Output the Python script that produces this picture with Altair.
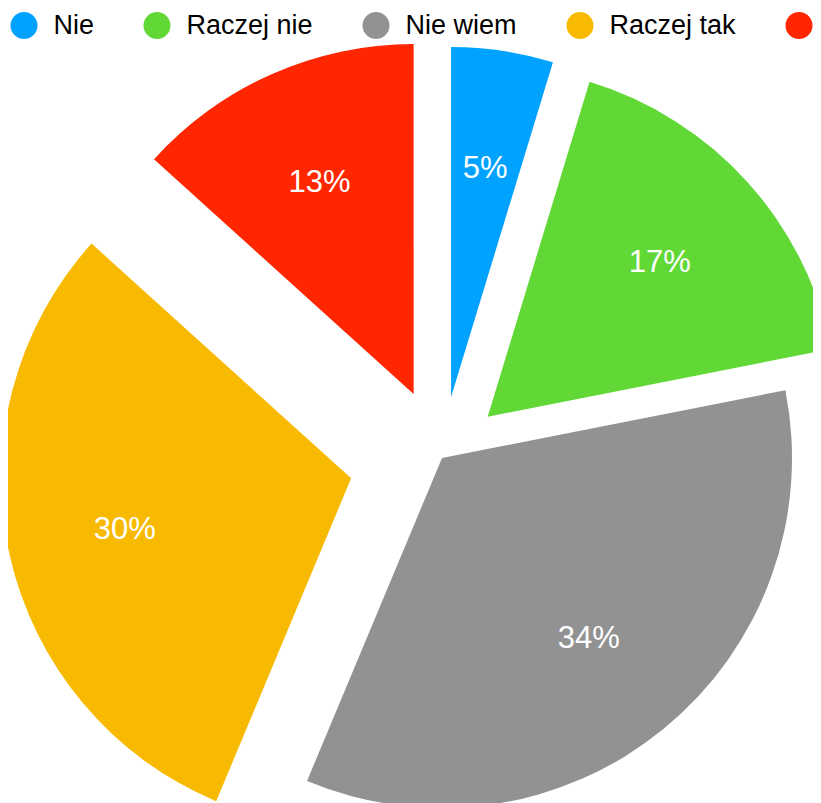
import altair as alt
import pandas as pd

# ---- data ----
categories = ["Nie", "Raczej nie", "Nie wiem", "Raczej tak", "Tak"]
values = [4.7, 17.2, 34.4, 30.4, 13.3]
colors = ["#00A2FF", "#61D836", "#929292", "#F8BA00", "#FF2600"]

# ---- style: how far each slice is pulled out (fraction of radius) ----
pull = [0.176, 0.176, 0.0, 0.266, 0.2]

W, H = 805, 795
CX, CY = 434, 450
R = 350
LR = 232
FONT = "Liberation Sans"

df = pd.DataFrame({
    "cat": categories,
    "value": values,
    "order": list(range(len(categories))),
    "pull": pull,
})

base = (
    alt.Chart(df)
    .transform_window(cum="sum(value)", sort=[alt.SortField("order")], frame=[None, 0])
    .transform_joinaggregate(total="sum(value)")
    .transform_calculate(a0="(datum.cum - datum.value) / datum.total * 2 * PI")
    .transform_calculate(a1="datum.cum / datum.total * 2 * PI")
    .transform_calculate(mid="(datum.a0 + datum.a1) / 2")
    .transform_calculate(cx=f"{CX} + datum.pull * {R} * sin(datum.mid)")
    .transform_calculate(cy=f"{CY} - datum.pull * {R} * cos(datum.mid)")
    .transform_calculate(lx=f"datum.cx + {LR} * sin(datum.mid)")
    .transform_calculate(ly=f"datum.cy - {LR} * cos(datum.mid)")
    .transform_calculate(label="format(datum.value, '.0f') + '%'")
)

arcs = base.mark_arc(radius=R).encode(
    x=alt.X("cx:Q", scale=None, axis=None),
    y=alt.Y("cy:Q", scale=None, axis=None),
    theta=alt.Theta("a0:Q", scale=None, stack=None),
    theta2="a1:Q",
    color=alt.Color(
        "cat:N",
        scale=alt.Scale(domain=categories, range=colors),
        sort=categories,
        legend=alt.Legend(
            title=None,
            orient="none",
            legendX=2.5,
            legendY=4,
            direction="horizontal",
            symbolType="circle",
            symbolSize=729,
            symbolStrokeWidth=0,
            symbolOpacity=1,
            labelFont=FONT,
            labelFontSize=27,
            labelColor="#000000",
            labelOffset=16,
            labelLimit=400,
            columnPadding=49,
            padding=0,
        ),
    ),
)

labels = base.mark_text(
    font=FONT, fontSize=31, color="white", align="center", baseline="middle", dy=1.5
).encode(
    x=alt.X("lx:Q", scale=None, axis=None),
    y=alt.Y("ly:Q", scale=None, axis=None),
    text="label:N",
)

chart = (
    alt.layer(arcs, labels)
    .properties(width=W, height=H, autosize="none", padding=0)
    .configure_view(stroke=None)
)

chart.save("out.html", embed_options={"renderer": "svg", "actions": False})
